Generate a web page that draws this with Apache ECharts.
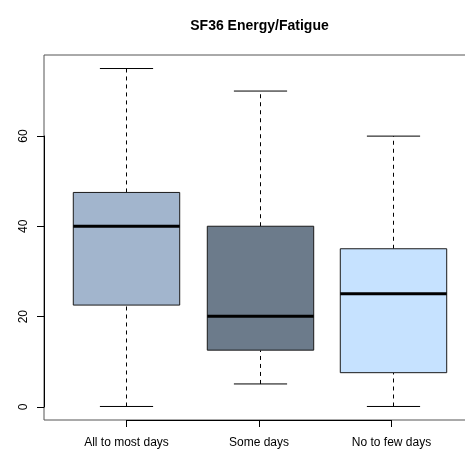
<!DOCTYPE html>
<html>
<head>
<meta charset="utf-8">
<script src="https://cdn.jsdelivr.net/npm/echarts@6/dist/echarts.min.js"></script>
<style>
  html, body { margin: 0; padding: 0; background: #fff; }
  #chart { width: 465px; height: 463px; }
</style>
</head>
<body>
<div id="chart"></div>
<script>
// SF36 Energy/Fatigue scores by group: five-number summaries
const categories = ['All to most days', 'Some days', 'No to few days'];
const lowerWhisker = [0, 5, 0];
const lowerQuartile = [22.5, 12.5, 7.5];
const medians = [40, 20, 25];
const upperQuartile = [47.5, 40, 35];
const upperWhisker = [75, 70, 60];
const yTicks = [0, 20, 40, 60];

const boxColors = ['#A2B5CD', '#6C7B8B', '#C6E2FF'];
const FONT = '"Liberation Sans", Arial, Helvetica, sans-serif';

const boxData = categories.map((c, i) => [
  i + 1, lowerWhisker[i], lowerQuartile[i], medians[i], upperQuartile[i], upperWhisker[i]
]);

// plot region: x spans 0.38..3.62, y spans -3..78 (runs past the right edge)
const plot = { left: 44, top: 55, width: 431, height: 365 };

function renderBox(params, api) {
  const x = api.value(0);
  const lo = api.value(1), q1 = api.value(2), med = api.value(3), q3 = api.value(4), hi = api.value(5);
  const halfBox = api.size([0.4, 0])[0];
  const halfCap = api.size([0.2, 0])[0];
  const pLo = api.coord([x, lo]);
  const pQ1 = api.coord([x, q1]);
  const pMed = api.coord([x, med]);
  const pQ3 = api.coord([x, q3]);
  const pHi = api.coord([x, hi]);
  const cx = Math.round(pLo[0]) + 0.5;
  const color = boxColors[params.dataIndex];
  const dashStyle = { stroke: '#000', lineWidth: 1, lineDash: [4, 4] };
  const solid = { stroke: '#000', lineWidth: 1 };
  return {
    type: 'group',
    children: [
      { type: 'line', shape: { x1: cx, y1: pQ3[1], x2: cx, y2: pHi[1] }, style: dashStyle },
      { type: 'line', shape: { x1: cx, y1: pLo[1], x2: cx, y2: pQ1[1] }, style: dashStyle },
      { type: 'line', shape: { x1: cx - halfCap, y1: pHi[1], x2: cx + halfCap, y2: pHi[1] }, style: solid },
      { type: 'line', shape: { x1: cx - halfCap, y1: pLo[1], x2: cx + halfCap, y2: pLo[1] }, style: solid },
      {
        type: 'rect',
        shape: { x: cx - halfBox, y: pQ3[1], width: 2 * halfBox, height: pQ1[1] - pQ3[1] },
        style: { fill: color, stroke: '#1a1a1a', lineWidth: 1 }
      },
      {
        type: 'line',
        shape: { x1: cx - halfBox, y1: pMed[1], x2: cx + halfBox, y2: pMed[1] },
        style: { stroke: '#000', lineWidth: 3 }
      }
    ]
  };
}

const chart = echarts.init(document.getElementById('chart'), null, { renderer: 'canvas' });
chart.setOption({
  animation: false,
  backgroundColor: '#fff',
  title: {
    text: 'SF36 Energy/Fatigue',
    left: plot.left + plot.width / 2,
    textAlign: 'center',
    top: 19,
    padding: 0,
    textStyle: { fontFamily: FONT, fontSize: 14, fontWeight: 'bold', color: '#000' }
  },
  grid: [
    // frame + marks
    { left: plot.left, top: plot.top, width: plot.width, height: plot.height,
      outerBoundsMode: 'none', containLabel: false,
      show: true, borderColor: '#555', borderWidth: 1, backgroundColor: 'transparent' },
    // left axis: from first to last tick
    { left: plot.left, top: 136, width: 10, height: 271, outerBoundsMode: 'none' },
    // bottom axis: from first to last group
    { left: 126.5, top: 410, width: 265, height: 10, outerBoundsMode: 'none' }
  ],
  xAxis: [
    { gridIndex: 0, type: 'value', min: 0.38, max: 3.62, show: false },
    { gridIndex: 1, type: 'value', min: 0, max: 1, show: false },
    {
      gridIndex: 2, type: 'category', data: categories, boundaryGap: false, position: 'bottom',
      axisLine: { lineStyle: { color: '#000', width: 1 } },
      axisTick: { show: true, inside: false, length: 7, alignWithLabel: true, lineStyle: { color: '#000' } },
      axisLabel: { margin: 17, color: '#000', fontFamily: FONT, fontSize: 12, interval: 0 },
      splitLine: { show: false }
    }
  ],
  yAxis: [
    { gridIndex: 0, type: 'value', min: -3, max: 78, show: false },
    {
      gridIndex: 1, type: 'value', min: yTicks[0], max: yTicks[yTicks.length - 1],
      interval: yTicks[1] - yTicks[0], position: 'left',
      axisLine: { show: true, lineStyle: { color: '#000', width: 1 } },
      axisTick: { show: true, inside: false, length: 7, lineStyle: { color: '#000' } },
      axisLabel: { rotate: 90, margin: 14, color: '#000', fontFamily: FONT, fontSize: 12 },
      splitLine: { show: false }
    },
    { gridIndex: 2, type: 'value', show: false }
  ],
  series: [
    {
      type: 'custom',
      xAxisIndex: 0,
      yAxisIndex: 0,
      data: boxData,
      encode: { x: 0, y: [1, 2, 3, 4, 5] },
      renderItem: renderBox,
      silent: true
    }
  ]
});
</script>
</body>
</html>
